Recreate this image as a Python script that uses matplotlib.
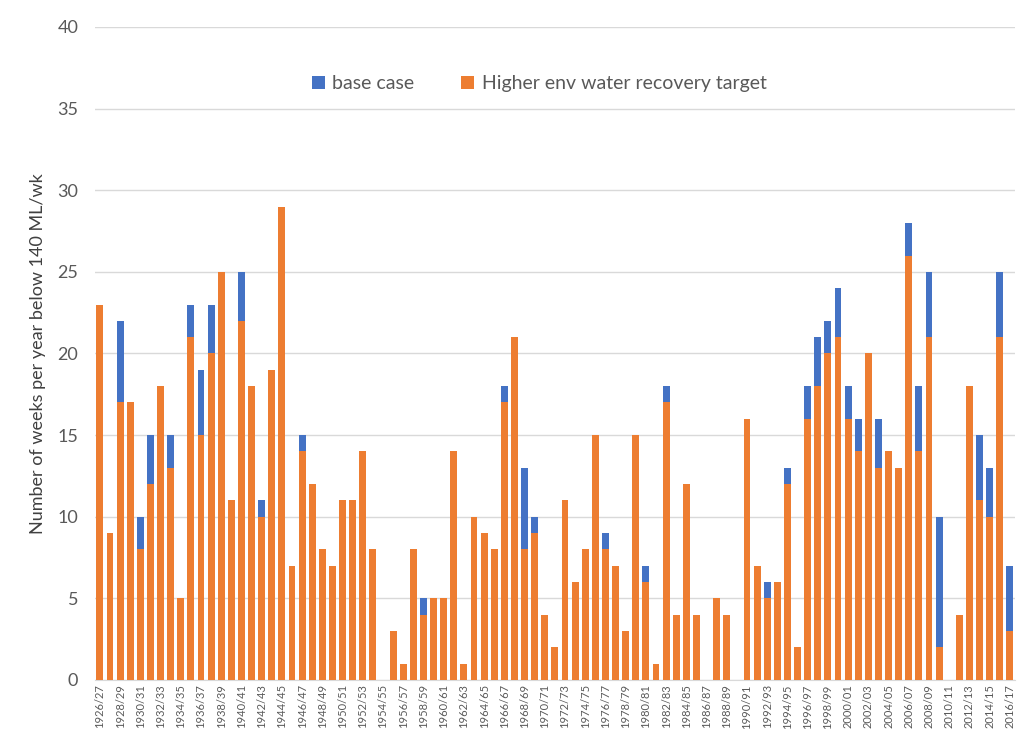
import matplotlib
matplotlib.use("Agg")
import matplotlib.pyplot as plt
import numpy as np

plt.rcParams['font.family'] = ['Lato', 'DejaVu Sans']

# water years 1926/27 .. 2016/17
years = [f"{y}/{str(y + 1)[-2:]}" for y in range(1926, 2017)]

# weeks per year below 140 ML/wk
base_case = [23, 9, 22, 17, 10, 15, 18, 15, 5, 23,
             19, 23, 25, 11, 25, 18, 11, 19, 29, 7,
             15, 12, 8, 7, 11, 11, 14, 8, 0, 3,
             1, 8, 5, 5, 5, 14, 1, 10, 9, 8,
             18, 21, 13, 10, 4, 2, 11, 6, 8, 15,
             9, 7, 3, 15, 7, 1, 18, 4, 12, 4,
             0, 5, 4, 0, 16, 7, 6, 6, 13, 2,
             18, 21, 22, 24, 18, 16, 20, 16, 14, 13,
             28, 18, 25, 10, 0, 4, 18, 15, 13, 25,
             7]
higher_target = [23, 9, 17, 17, 8, 12, 18, 13, 5, 21,
                 15, 20, 25, 11, 22, 18, 10, 19, 29, 7,
                 14, 12, 8, 7, 11, 11, 14, 8, 0, 3,
                 1, 8, 4, 5, 5, 14, 1, 10, 9, 8,
                 17, 21, 8, 9, 4, 2, 11, 6, 8, 15,
                 8, 7, 3, 15, 6, 1, 17, 4, 12, 4,
                 0, 5, 4, 0, 16, 7, 5, 6, 12, 2,
                 16, 18, 20, 21, 16, 14, 20, 13, 14, 13,
                 26, 14, 21, 2, 0, 4, 18, 11, 10, 21,
                 3]

blue = '#4472C4'
orange = '#ED7D31'
grey = '#595959'

fig = plt.figure(figsize=(10.2, 7.47), dpi=100)
ax = fig.add_axes([0.093, 0.0897, 0.902, 0.8742])

x = np.arange(len(years))
ax.bar(x, base_case, width=0.68, color=blue, label='base case', zorder=2)
ax.bar(x, higher_target, width=0.68, color=orange,
       label='Higher env water recovery target', zorder=3)

ax.set_xlim(-0.5, len(years) - 0.5)
ax.set_ylim(0, 40)
ax.set_yticks(range(0, 41, 5))
ax.yaxis.grid(True, color='#d9d9d9', linewidth=1)
ax.set_axisbelow(True)

ax.set_xticks(x[::2])
ax.set_xticklabels(years[::2], rotation=90, fontsize=8, color=grey)
ax.tick_params(axis='y', labelsize=13, labelcolor=grey, length=0, pad=12)
ax.tick_params(axis='x', length=0, pad=3)

for side in ['top', 'right', 'left']:
    ax.spines[side].set_visible(False)
ax.spines['bottom'].set_color('#d9d9d9')

ax.set_ylabel('Number of weeks per year below 140 ML/wk', fontsize=13,
              color='#404040', labelpad=8)

ax.legend(loc='upper center', bbox_to_anchor=(0.483, 0.953), ncol=2,
          frameon=False, fontsize=14, handlelength=0.65, handleheight=0.65,
          columnspacing=2.4, handletextpad=0.4, labelcolor=grey)

fig.savefig('out.png', dpi=100)
